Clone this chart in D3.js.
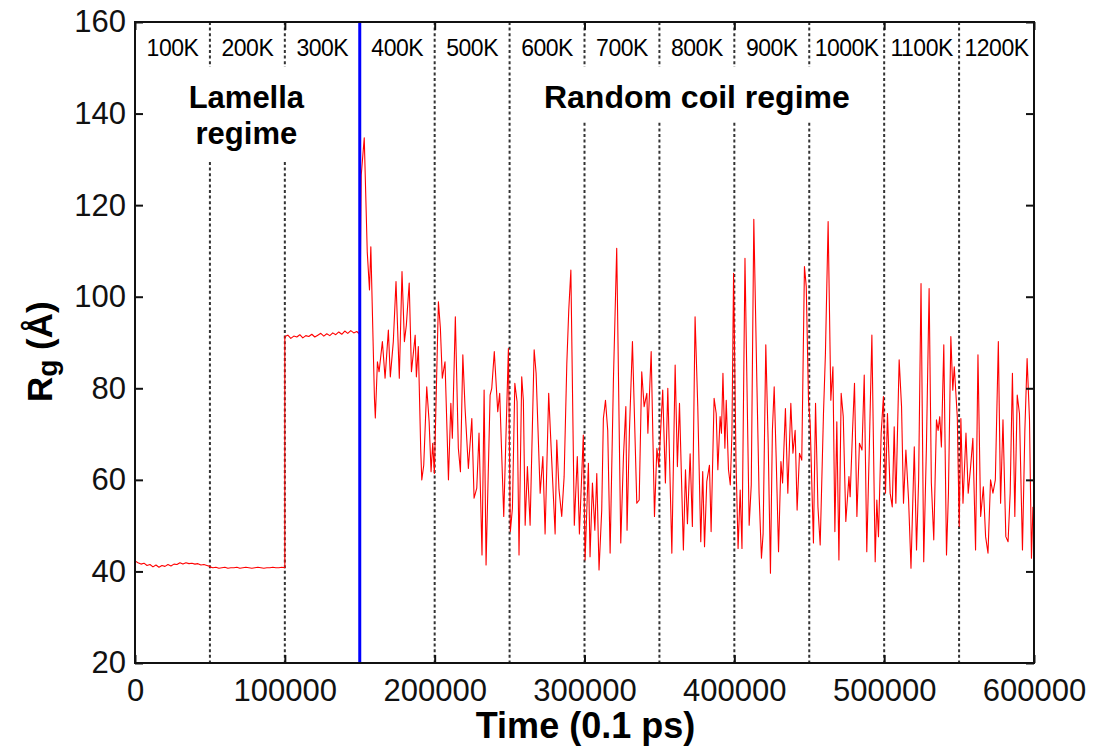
<html>
<meta charset='utf-8'>
<head>
    <script src="https://d3js.org/d3.v7.min.js"></script>
    <style>
      body { margin: 0; background: #fff; }
      text { font-family: Arial, "Liberation Sans", sans-serif; }
    </style>
</head>
<body>
<div id='viz'></div>
<script>
    // temperature label for each 50000-step stage
    let tempLabels = ['100K', '200K', '300K', '400K', '500K', '600K',
                      '700K', '800K', '900K', '1000K', '1100K', '1200K'];
    let stageLen = 50000;
    let switchTime = 150000;   // blue line: lamella -> random coil

    let yTicks = [20, 40, 60, 80, 100, 120, 140, 160];
    let xTicks = [0, 100000, 200000, 300000, 400000, 500000, 600000];

    // lamella regime, sampled every 2000 steps
    let sampleStep = 2000;
    let lamella100K = [42.3, 41.9, 41.6, 41.8, 41.3, 41.5, 41.0, 41.4, 40.9, 41.3, 41.1, 41.5, 41.2,
                       41.6, 41.5, 41.9, 41.6, 41.9, 41.7, 41.8, 41.6, 41.7, 41.4, 41.5, 41.3, 41.1];
    let lamella200K = [41.0, 40.8, 40.9, 40.7, 40.8, 40.9, 40.7, 40.8, 40.8, 40.9, 40.7, 40.8, 40.9,
                       40.8, 40.7, 40.8, 40.9, 40.8, 40.7, 40.8, 40.8, 40.9, 40.8, 40.8, 40.9, 40.8];
    let lamella300K = [91.3, 91.6, 90.9, 91.4, 91.2, 91.7, 91.0, 91.5, 91.3, 91.8, 91.2, 91.6, 92.0,
                       91.4, 91.9, 91.5, 92.1, 91.7, 92.3, 91.8, 92.5, 92.0, 92.6, 92.1, 92.4, 91.8];

    // random coil regime (time, Rg)
    let coilTime = [151000, 153000, 155000, 156500, 157400, 159800, 160400, 161800, 162900, 165100,
      166900, 169100, 170400, 172400, 174200, 176400, 178200, 179800, 181100, 183000,
      184500, 187000, 187800, 189100, 190700, 191400, 192700, 194700, 196300, 197600,
      198700, 199800, 202500, 203800, 205100, 206900, 209200, 210800, 211800, 213800,
      215800, 217200, 218800, 220300, 222500, 224800, 226300, 228100, 229600, 231600,
      233000, 234300, 237000, 238100, 239800, 242100, 243400, 246100, 249200, 250500,
      251900, 253500, 255000, 256300, 258100, 259200, 260400, 261900, 263700, 266400,
      267700, 270400, 272200, 273700, 276100, 277700, 280400, 281500, 283000, 284800,
      286400, 288200, 289500, 290900, 293200, 295200, 296600, 299200, 300400, 302600,
      303700, 305300, 306900, 308200, 309700, 311500, 312600, 314000, 315500, 317100,
      319300, 321500, 324200, 326000, 327600, 328400, 330000, 332000, 334900, 336500,
      338200, 339800, 341600, 342300, 344500, 346700, 348300, 349600, 352200, 354000,
      355600, 358300, 360500, 362000, 363400, 366000, 367400, 368700, 370500, 372000,
      373800, 375600, 377600, 378900, 380100, 381600, 383400, 384500, 386500, 387900,
      389000, 390500, 391400, 392400, 393700, 394600, 396100, 397300, 398400, 399500,
      401100, 402500, 403900, 405100, 407100, 409900, 411300, 413000, 415100, 416500,
      418100, 419200, 421000, 422600, 424100, 425400, 426600, 427900, 429500, 431100,
      432200, 434100, 435700, 437700, 439100, 440600, 441900, 443500, 445000, 446800,
      448000, 449500, 450600, 452800, 454200, 455800, 457300, 459500, 460800, 462600,
      464400, 465800, 467100, 468400, 469800, 471300, 472700, 474400, 476500, 477300,
      478900, 480200, 481800, 483500, 485200, 486700, 488400, 490000, 491800, 494000,
      495100, 496200, 498000, 499500, 500900, 502200, 504000, 505400, 506700, 507800,
      510000, 511600, 512900, 514500, 516300, 517900, 520100, 521600, 523000, 524600,
      526400, 528200, 530000, 531500, 533100, 534900, 536000, 537100, 538200, 539800,
      541600, 542900, 544500, 545800, 546800, 548800, 550100, 551200, 552600, 554600,
      556100, 557700, 559200, 561000, 562600, 564400, 566200, 567700, 569300, 571000,
      572600, 574200, 576200, 577700, 579300, 581200, 582700, 584100, 585600, 587200,
      588800, 590300, 592300, 593900, 595400, 597000, 598300, 599300];
    let coilRg = [126.6, 134.7, 109.8, 101.5, 110.9, 77.9, 73.5, 85.8, 83.6, 90.2,
      82.2, 92.7, 82.5, 90.2, 103.3, 82.2, 105.5, 90.2, 93.8, 103.0,
      83.6, 91.6, 82.5, 89.1, 66.5, 60.0, 63.2, 80.3, 72.7, 61.8,
      68.0, 61.4, 98.9, 93.2, 82.2, 85.8, 60.0, 76.7, 69.1, 95.6,
      66.9, 61.8, 87.3, 75.6, 62.5, 73.4, 56.0, 58.2, 70.2, 43.6,
      79.6, 41.4, 78.5, 80.0, 88.0, 74.9, 78.9, 52.0, 88.7, 48.7,
      53.8, 81.1, 77.1, 43.6, 82.5, 77.4, 50.1, 62.9, 50.1, 88.4,
      83.3, 57.1, 65.1, 48.2, 78.9, 67.2, 48.2, 68.7, 57.8, 52.0,
      60.7, 85.4, 97.1, 105.8, 50.1, 65.1, 48.2, 69.8, 42.5, 63.6,
      43.2, 59.3, 49.0, 61.4, 40.3, 53.4, 73.4, 77.4, 70.8, 44.0,
      81.8, 110.6, 46.2, 65.1, 76.0, 49.0, 70.8, 90.2, 54.9, 55.6,
      83.6, 76.0, 78.9, 70.2, 88.0, 52.0, 66.9, 62.9, 79.6, 59.3,
      80.0, 44.0, 85.1, 62.9, 76.7, 44.7, 62.2, 50.4, 65.7, 49.8,
      95.6, 76.0, 46.5, 61.8, 45.4, 59.6, 63.2, 48.7, 77.8, 74.5,
      62.2, 73.8, 70.2, 83.3, 66.9, 77.4, 62.2, 58.9, 70.2, 105.1,
      64.3, 45.0, 57.8, 45.0, 108.4, 50.1, 58.9, 116.9, 80.3, 57.1,
      42.9, 48.2, 89.5, 68.0, 39.6, 70.8, 80.3, 65.1, 44.3, 64.0,
      59.3, 75.6, 57.1, 76.7, 65.8, 70.8, 53.4, 65.8, 64.3, 106.6,
      102.2, 77.4, 72.4, 46.2, 76.7, 54.1, 45.8, 74.5, 87.6, 116.4,
      77.4, 84.7, 48.7, 72.7, 42.5, 78.9, 73.8, 50.9, 60.7, 56.3,
      70.8, 81.1, 52.0, 68.0, 66.5, 82.9, 44.3, 65.8, 91.6, 42.1,
      55.6, 47.6, 70.2, 78.2, 57.1, 74.5, 57.1, 54.1, 71.6, 54.9,
      86.2, 76.0, 54.9, 66.5, 55.6, 40.7, 67.2, 44.7, 60.0, 102.9,
      42.1, 67.2, 101.8, 59.3, 46.9, 73.1, 70.8, 73.8, 67.2, 89.5,
      43.6, 57.1, 91.3, 79.6, 84.7, 73.8, 49.8, 73.4, 54.9, 70.2,
      57.1, 62.9, 69.1, 44.7, 87.3, 52.0, 58.5, 47.6, 44.0, 60.0,
      57.1, 60.0, 90.2, 54.9, 73.1, 47.6, 46.5, 57.1, 83.3, 52.0,
      78.5, 74.5, 44.7, 70.8, 86.5, 73.1, 42.9, 54.1];

    function createViz() {
        let width = 1093, height = 751;
        let margin = {left: 135, right: 59, top: 22, bottom: 88};

        let svg = d3.select('#viz').append('svg')
                    .attr('width', width)
                    .attr('height', height);

        let x = d3.scaleLinear().domain([0, 600000]).range([margin.left, width - margin.right]);
        let y = d3.scaleLinear().domain([20, 160]).range([height - margin.bottom, margin.top]);

        // build the series
        let series = [];
        [lamella100K, lamella200K, lamella300K].forEach((seg, s) => {
            seg.forEach((v, i) => {
                series.push({t: s * stageLen + i * sampleStep, rg: v});
            });
        });
        coilTime.forEach((t, i) => series.push({t: t, rg: coilRg[i]}));

        // dotted stage separators
        let sepTimes = d3.range(stageLen, 600000, stageLen).filter(t => t != switchTime);
        svg.selectAll('.sep').data(sepTimes).enter().append('line')
            .attr('class', 'sep')
            .attr('x1', d => x(d)).attr('x2', d => x(d))
            .attr('y1', y(160)).attr('y2', y(20))
            .attr('stroke', '#333')
            .attr('stroke-width', 2)
            .attr('stroke-dasharray', '3,2.6');

        // white boxes behind the regime labels
        svg.append('rect')
            .attr('x', x(45000)).attr('y', 67)
            .attr('width', x(110000) - x(45000)).attr('height', 95)
            .attr('fill', 'white');
        svg.append('rect')
            .attr('x', x(290000)).attr('y', 67)
            .attr('width', x(470000) - x(290000)).attr('height', 55)
            .attr('fill', 'white');

        // temperature labels
        svg.selectAll('.temp').data(tempLabels).enter().append('text')
            .attr('class', 'temp')
            .attr('x', (d, i) => x(i * stageLen + stageLen / 2))
            .attr('y', 56)
            .attr('text-anchor', 'middle')
            .attr('font-size', '23px')
            .attr('letter-spacing', '-0.5px')
            .text(d => d);

        // regime labels
        let lam = svg.append('text')
            .attr('text-anchor', 'middle')
            .attr('font-size', '31px')
            .attr('font-weight', 'bold');
        lam.append('tspan').attr('x', x(75000) - 1).attr('y', 108).text('Lamella');
        lam.append('tspan').attr('x', x(75000) - 1).attr('y', 144).text('regime');

        svg.append('text')
            .attr('x', x(375000)).attr('y', 108)
            .attr('text-anchor', 'middle')
            .attr('font-size', '32px')
            .attr('font-weight', 'bold')
            .text('Random coil regime');

        // data line
        let line = d3.line().x(d => x(d.t)).y(d => y(d.rg));
        svg.append('path')
            .datum(series)
            .attr('d', line)
            .attr('fill', 'none')
            .attr('stroke', '#ff0000')
            .attr('stroke-width', 1.1)
            .attr('stroke-linejoin', 'round');

        // regime switch
        svg.append('line')
            .attr('x1', x(switchTime)).attr('x2', x(switchTime))
            .attr('y1', y(160)).attr('y2', y(20))
            .attr('stroke', '#0000ff')
            .attr('stroke-width', 3);

        // axes with inward ticks
        let tickSize = 8;
        let axB = svg.append('g').attr('transform', `translate(0,${y(20)})`)
            .call(d3.axisBottom(x).tickValues(xTicks).tickSize(-tickSize).tickPadding(16).tickFormat(d3.format('d')));
        let axT = svg.append('g').attr('transform', `translate(0,${y(160)})`)
            .call(d3.axisTop(x).tickValues(xTicks).tickSize(-tickSize).tickFormat(''));
        let axL = svg.append('g').attr('transform', `translate(${x(0)},0)`)
            .call(d3.axisLeft(y).tickValues(yTicks).tickSize(-tickSize).tickPadding(9));
        let axR = svg.append('g').attr('transform', `translate(${x(600000)},0)`)
            .call(d3.axisRight(y).tickValues(yTicks).tickSize(-tickSize).tickFormat(''));

        [axB, axT, axL, axR].forEach(a => {
            a.select('.domain').remove();
            a.selectAll('line').attr('stroke', '#111').attr('stroke-width', 2);
            a.selectAll('text').attr('font-family', 'Arial, "Liberation Sans", sans-serif')
             .attr('font-size', '31px').attr('fill', '#111');
        });

        // frame
        svg.append('rect')
            .attr('x', x(0)).attr('y', y(160))
            .attr('width', x(600000) - x(0)).attr('height', y(20) - y(160))
            .attr('fill', 'none')
            .attr('stroke', '#111')
            .attr('stroke-width', 2);

        // axis titles
        svg.append('text')
            .attr('x', x(300000) + 1).attr('y', 738)
            .attr('text-anchor', 'middle')
            .attr('font-size', '36px')
            .attr('font-weight', 'bold')
            .text('Time (0.1 ps)');

        let yt = svg.append('text')
            .attr('transform', `translate(52,${y(88)}) rotate(-90)`)
            .attr('text-anchor', 'middle')
            .attr('font-size', '35px')
            .attr('font-weight', 'bold');
        yt.append('tspan').text('R');
        yt.append('tspan').attr('font-size', '28px').attr('dy', 5).text('g');
        yt.append('tspan').attr('dy', -5).text(' (Å)');
    }

    createViz();
</script>
</body>
</html>
